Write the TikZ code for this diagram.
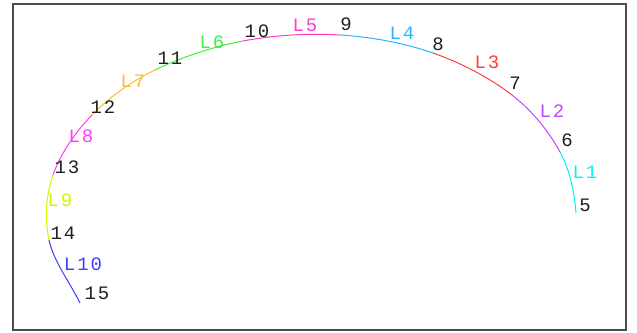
\documentclass[tikz,border=0pt]{standalone}
\usepackage{fontspec}
\newfontfamily\labfont[LetterSpace=10]{Liberation Mono}
\definecolor{cA}{RGB}{0,245,245}
\definecolor{cB}{RGB}{190,70,255}
\definecolor{cC}{RGB}{255,60,60}
\definecolor{cD}{RGB}{40,180,255}
\definecolor{cE}{RGB}{255,60,200}
\definecolor{cF}{RGB}{60,240,60}
\definecolor{cG}{RGB}{255,185,50}
\definecolor{cH}{RGB}{255,60,255}
\definecolor{cI}{RGB}{200,250,0}
\definecolor{cJ}{RGB}{60,60,255}
\definecolor{txt}{RGB}{30,30,30}
\begin{document}
\begin{tikzpicture}[x=1pt,y=-1pt,
  seg/.style={line width=1pt},
  lbl/.style={font=\labfont\fontsize{19}{19}\selectfont, inner sep=0pt, anchor=center},
  num/.style={lbl, text=txt},
  frame/.style={draw=black!70, line width=1.5pt}]
\useasboundingbox (0,0) rectangle (637,332);
\draw[frame] (13,4) rectangle (626,330);
\coordinate (p5) at (576,213);
\coordinate (p6) at (560,152);
\coordinate (p7) at (512,95);
\coordinate (p8) at (433,53);
\coordinate (p9) at (340,35);
\coordinate (p10) at (243,41);
\coordinate (p11) at (155,70);
\coordinate (p12) at (92,115);
\coordinate (p13) at (53,175);
\coordinate (p14) at (49,240);
\coordinate (p15) at (80,303);
\draw[seg,cA] (p5) .. controls +(-1.7,-20.3) and +(10.7,19.7) .. (p6);
\draw[seg,cB] (p6) .. controls +(-10.7,-19.7) and +(21.2,16.5) .. (p7);
\draw[seg,cC] (p7) .. controls +(-21.2,-16.5) and +(28.7,10) .. (p8);
\draw[seg,cD] (p8) .. controls +(-28.7,-10) and +(31.7,2) .. (p9);
\draw[seg,cE] (p9) .. controls +(-31.7,-2) and +(30.8,-5.8) .. (p10);
\draw[seg,cF] (p10) .. controls +(-30.8,5.8) and +(25.2,-12.3) .. (p11);
\draw[seg,cG] (p11) .. controls +(-25.2,12.3) and +(17,-17.5) .. (p12);
\draw[seg,cH] (p12) .. controls +(-17,17.5) and +(7.2,-20.8) .. (p13);
\draw[seg,cI] (p13) .. controls +(-7.2,20.8) and +(-4.5,-21.3) .. (p14);
\draw[seg,cJ] (p14) .. controls +(4.5,21.3) and +(-10.3,-21) .. (p15);
\node[num] (n5) at (585,205) {5};
\node[num] (n6) at (567,140) {6};
\node[num] (n7) at (515,83) {7};
\node[num] (n8) at (438,44) {8};
\node[num] (n9) at (346,24) {9};
\node[num] (n10) at (257,31) {10};
\node[num] (n11) at (170,58) {11};
\node[num] (n12) at (103,107) {12};
\node[num] (n13) at (67,167) {13};
\node[num] (n14) at (63,233) {14};
\node[num] (n15) at (97,293) {15};
\node[lbl,text=cA] (l1) at (585,172) {L1};
\node[lbl,text=cB] (l2) at (552,111) {L2};
\node[lbl,text=cC] (l3) at (487,62) {L3};
\node[lbl,text=cD] (l4) at (402,33) {L4};
\node[lbl,text=cE] (l5) at (305,25) {L5};
\node[lbl,text=cF] (l6) at (212,42) {L6};
\node[lbl,text=cG] (l7) at (133,81) {L7};
\node[lbl,text=cH] (l8) at (81,136) {L8};
\node[lbl,text=cI] (l9) at (60,200) {L9};
\node[lbl,text=cJ] (l10) at (83,264) {L10};
\end{tikzpicture}
\end{document}
